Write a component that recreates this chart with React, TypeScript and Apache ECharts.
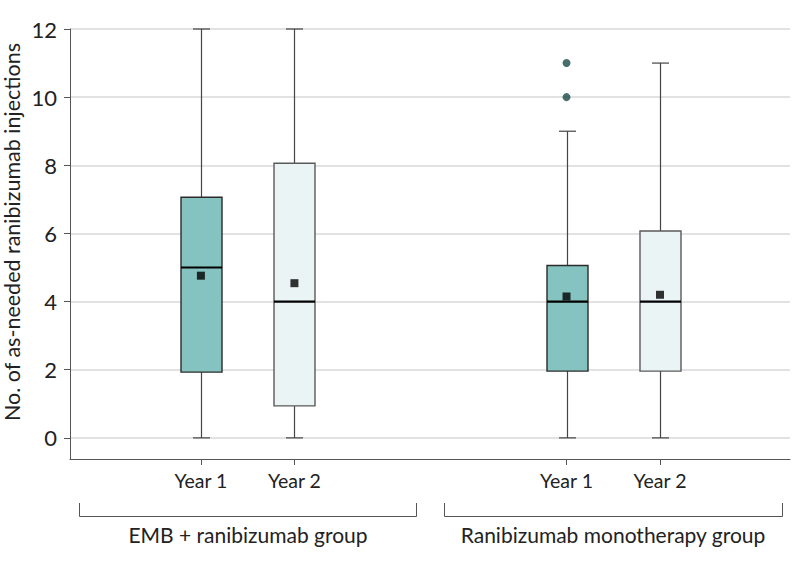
import React, { useEffect, useRef } from "react";
import * as echarts from "echarts";

const groupLabels = ["EMB + ranibizumab group", "Ranibizumab monotherapy group"];
const xLabels = ["Year 1", "Year 2", "Year 1", "Year 2"];
const xPositions = [1.4, 2.4, 5.31, 6.31];
const boxMin = [0, 0, 0, 0];
const boxQ1 = [1.93, 0.94, 1.96, 1.96];
const boxMedian = [5, 4, 4, 4];
const boxQ3 = [7.06, 8.06, 5.06, 6.07];
const boxMax = [12, 12, 9, 11];
const boxMean = [4.76, 4.54, 4.15, 4.2];
const outlierBox = [2, 2];
const outlierValue = [10, 11];
const yTicks = [0, 2, 4, 6, 8, 10, 12];

const FONT = "Lato";

export default function App() {
  const ref = useRef<HTMLDivElement>(null);
  useEffect(() => {
    if (!ref.current) return;
    const chart = echarts.init(ref.current, null, { renderer: "svg" });
    const fills = ["#84c3bf", "#eaf4f5"];
    const strokes = ["#2b2b2b", "#5a5a5a"];
    const boxData = xPositions.map((x, i) => [x, boxMin[i], boxQ1[i], boxMedian[i], boxQ3[i], boxMax[i], i % 2]);
    const meanData = xPositions.map((x, i) => [x, boxMean[i]]);
    const outData = outlierBox.map((b, i) => [xPositions[b], outlierValue[i]]);
    const option: any = {
      animation: false,
      grid: { left: 70, right: 8, top: 29, bottom: 103 },
      xAxis: {
        type: "value",
        min: 0,
        max: 7.7,
        axisLine: { show: true, onZero: false, lineStyle: { color: "#555", width: 1 } },
        axisTick: { show: true, customValues: xPositions, length: 6, lineStyle: { color: "#555" } },
        axisLabel: {
          customValues: xPositions,
          margin: 11,
          fontSize: 19.5,
          fontFamily: FONT,
          color: "#222",
          formatter: (v: number) => {
            const i = xPositions.findIndex((p) => Math.abs(p - v) < 1e-6);
            return i >= 0 ? xLabels[i] : "";
          },
        },
        splitLine: { show: false },
      },
      yAxis: {
        type: "value",
        min: -0.62,
        max: 12,
        axisLine: { show: true, lineStyle: { color: "#555", width: 1 } },
        axisTick: { show: true, customValues: yTicks, length: 6, lineStyle: { color: "#555" } },
        axisLabel: { customValues: yTicks, margin: 13, fontSize: 22, fontFamily: FONT, color: "#222" },
        splitLine: { show: true, lineStyle: { color: "#d9d9d9", width: 1.5 } },
      },
      graphic: [
        {
          type: "text",
          x: 12,
          y: 232,
          rotation: Math.PI / 2,
          style: {
            text: "No. of as-needed ranibizumab injections",
            fontSize: 21.5,
            fontFamily: FONT,
            fill: "#222",
            align: "center",
            verticalAlign: "middle",
          },
        },
        {
          type: "polyline",
          shape: { points: [[79.5, 503], [79.5, 516.5], [416.5, 516.5], [416.5, 503]] },
          style: { stroke: "#555", lineWidth: 1, fill: null },
        },
        {
          type: "polyline",
          shape: { points: [[444.5, 503], [444.5, 516.5], [782.5, 516.5], [782.5, 503]] },
          style: { stroke: "#555", lineWidth: 1, fill: null },
        },
        {
          type: "text",
          x: 248,
          y: 534,
          style: { text: groupLabels[0], fontSize: 21, fontFamily: FONT, fill: "#222", align: "center", verticalAlign: "middle" },
        },
        {
          type: "text",
          x: 613,
          y: 534,
          style: { text: groupLabels[1], fontSize: 21, fontFamily: FONT, fill: "#222", align: "center", verticalAlign: "middle" },
        },
      ],
      series: [
        {
          type: "custom",
          data: boxData,
          z: 3,
          renderItem: (params: any, api: any) => {
            const x = api.value(0);
            const lo = api.coord([x, api.value(1)]);
            const q1 = api.coord([x, api.value(2)]);
            const med = api.coord([x, api.value(3)]);
            const q3 = api.coord([x, api.value(4)]);
            const hi = api.coord([x, api.value(5)]);
            const k = api.value(6);
            const bw = 41;
            const cw = 17;
            const cx = Math.round(lo[0]) + 0.5;
            const wStyle = { stroke: "#444", lineWidth: 1.2 };
            return {
              type: "group",
              children: [
                { type: "line", shape: { x1: cx, y1: q1[1], x2: cx, y2: lo[1] }, style: wStyle },
                { type: "line", shape: { x1: cx, y1: q3[1], x2: cx, y2: hi[1] }, style: wStyle },
                { type: "line", shape: { x1: cx - cw / 2, y1: lo[1], x2: cx + cw / 2, y2: lo[1] }, style: wStyle },
                { type: "line", shape: { x1: cx - cw / 2, y1: hi[1], x2: cx + cw / 2, y2: hi[1] }, style: wStyle },
                {
                  type: "rect",
                  shape: { x: cx - bw / 2, y: q3[1], width: bw, height: q1[1] - q3[1] },
                  style: { fill: fills[k], stroke: strokes[k], lineWidth: 1.4 },
                },
                { type: "line", shape: { x1: cx - bw / 2, y1: med[1], x2: cx + bw / 2, y2: med[1] }, style: { stroke: "#000", lineWidth: 2.2 } },
              ],
            };
          },
        },
        {
          type: "scatter",
          data: meanData,
          symbol: "rect",
          symbolSize: 8,
          itemStyle: { color: "#000" },
          z: 5,
        },
        {
          type: "scatter",
          data: outData,
          symbol: "circle",
          symbolSize: 8,
          itemStyle: { color: "#1a4a47" },
          z: 5,
        },
      ],
    };
    chart.setOption(option);
    return () => chart.dispose();
  }, []);
  return <div ref={ref} style={{ position: "absolute", left: 0, top: 0, width: 798, height: 562 }} />;
}
